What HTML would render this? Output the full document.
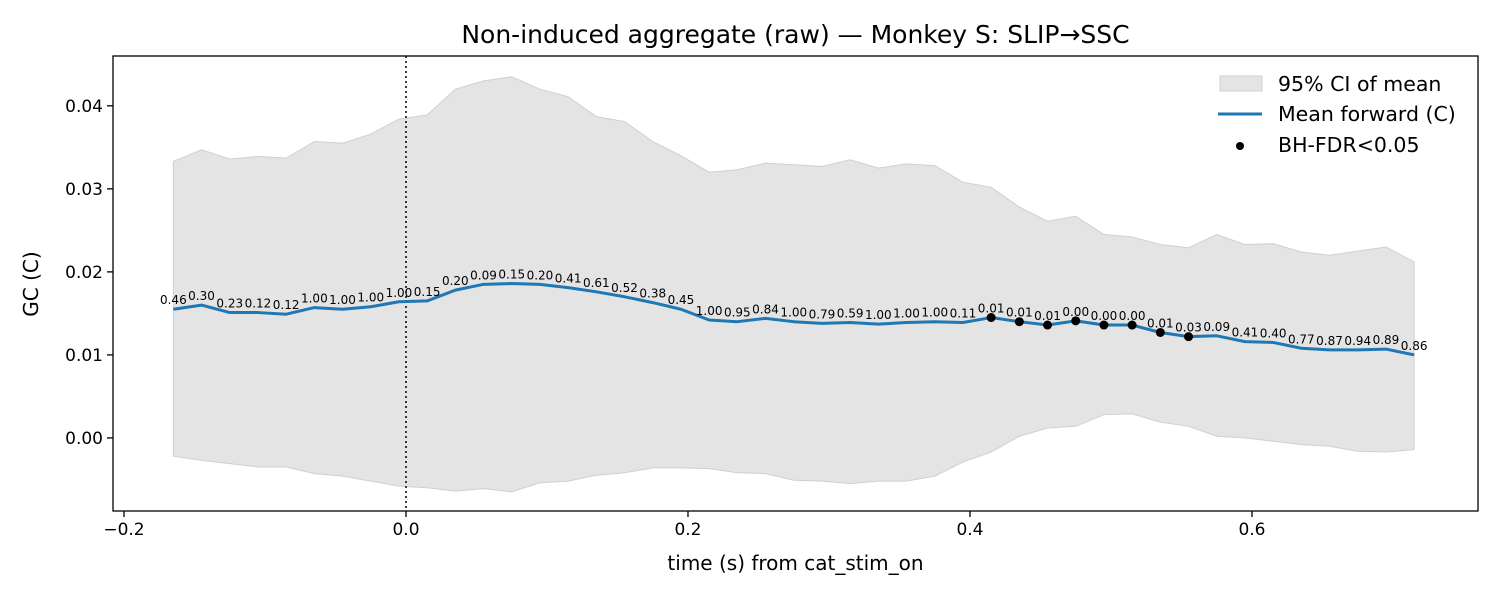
<!DOCTYPE html>
<html><head><meta charset="utf-8"><style>
body{margin:0;background:#fff;font-family:"DejaVu Sans","Liberation Sans",sans-serif}
</style></head><body>
<svg id="chart" width="1500" height="600" xmlns="http://www.w3.org/2000/svg" font-family="DejaVu Sans, Liberation Sans, sans-serif"></svg>
<script>
const times = [];
const tStart = -0.165, tStep = 0.02, nPts = 45;
const meanVals = [0.0155,0.0160,0.0151,0.0151,0.0149,0.0157,0.0155,0.0158,0.0164,0.0165,0.0178,0.0185,0.0186,0.0185,0.0181,0.0176,0.0170,0.0163,0.0155,0.0142,0.0140,0.0144,0.0140,0.0138,0.0139,0.0137,0.0139,0.0140,0.0139,0.0145,0.0140,0.0136,0.0141,0.0136,0.0136,0.0127,0.0122,0.0123,0.0116,0.0115,0.0108,0.0106,0.0106,0.0107,0.0100];
const ciUpper = [0.0333,0.0347,0.0336,0.0339,0.0337,0.0357,0.0355,0.0366,0.0384,0.0389,0.0420,0.0430,0.0435,0.0420,0.0411,0.0387,0.0381,0.0357,0.0340,0.0320,0.0323,0.0331,0.0329,0.0327,0.0335,0.0325,0.0330,0.0328,0.0308,0.0302,0.0278,0.0261,0.0267,0.0245,0.0242,0.0233,0.0229,0.0245,0.0233,0.0234,0.0224,0.0220,0.0225,0.0230,0.0212];
const ciLower = [-0.0022,-0.0027,-0.0031,-0.0035,-0.0035,-0.0043,-0.0046,-0.0052,-0.0058,-0.0060,-0.0064,-0.0061,-0.0065,-0.0054,-0.0052,-0.0045,-0.0042,-0.0036,-0.0036,-0.0037,-0.0042,-0.0043,-0.0051,-0.0052,-0.0055,-0.0052,-0.0052,-0.0046,-0.0029,-0.0017,0.0002,0.0012,0.0014,0.0028,0.0029,0.0019,0.0014,0.0002,0.0000,-0.0004,-0.0008,-0.0010,-0.0016,-0.0017,-0.0014];
const qVals = [0.46,0.30,0.23,0.12,0.12,1.00,1.00,1.00,1.00,0.15,0.20,0.09,0.15,0.20,0.41,0.61,0.52,0.38,0.45,1.00,0.95,0.84,1.00,0.79,0.59,1.00,1.00,1.00,0.11,0.01,0.01,0.01,0.00,0.00,0.00,0.01,0.03,0.09,0.41,0.40,0.77,0.87,0.94,0.89,0.86];
const xTicks = [-0.2,0.0,0.2,0.4,0.6];
const xTickLabels = ["\u22120.2","0.0","0.2","0.4","0.6"];
const yTicks = [0.00,0.01,0.02,0.03,0.04];
const yTickLabels = ["0.00","0.01","0.02","0.03","0.04"];
for(let i=0;i<nPts;i++) times.push(tStart+i*tStep);

const L=113,R=1478,T=56,B=511;
const xMin=-0.2078,xMax=0.7603,yMin=-0.0088,yMax=0.046;
const sx=v=>L+(v-xMin)/(xMax-xMin)*(R-L);
const sy=v=>B-(v-yMin)/(yMax-yMin)*(B-T);
const svg=document.getElementById('chart');
const NS='http://www.w3.org/2000/svg';
function mk(tag,attrs,text){const e=document.createElementNS(NS,tag);for(const k in attrs)e.setAttribute(k,attrs[k]);if(text!==undefined)e.textContent=text;svg.appendChild(e);return e;}

let d='';
times.forEach((t,i)=>{d+=(i?'L':'M')+sx(t)+','+sy(ciUpper[i]);});
for(let i=nPts-1;i>=0;i--)d+='L'+sx(times[i])+','+sy(ciLower[i]);
let band=mk('path',{d:d+'Z',fill:'#e4e4e4',stroke:'#d0d0d0','stroke-width':1});



let vl=mk('line',{x1:sx(0),x2:sx(0),y1:T,y2:B,stroke:'#000','stroke-width':1.5,'stroke-dasharray':'2,3'});



let md='';
times.forEach((t,i)=>{md+=(i?'L':'M')+sx(t)+','+sy(meanVals[i]);});
let ml=mk('path',{d:md,fill:'none',stroke:'#1f77b4','stroke-width':3,'stroke-linejoin':'round'});



times.forEach((t,i)=>{
  const lb=mk('text',{x:sx(t),y:sy(meanVals[i])-5,'font-size':12,'text-anchor':'middle',fill:'#000'},qVals[i].toFixed(2));
  
  
  if(qVals[i]<0.05){
    const c=mk('circle',{cx:sx(t),cy:sy(meanVals[i]),r:4.5,fill:'#000'});
    
    
  }
});

let fr=mk('rect',{x:L,y:T,width:R-L,height:B-T,fill:'none',stroke:'#000','stroke-width':1.3});



xTicks.forEach((v,i)=>{
  const x=sx(v);
  mk('line',{x1:x,x2:x,y1:B,y2:B+6,stroke:'#000','stroke-width':1.3});
  const tl=mk('text',{x:x,y:B+24,'font-size':17,'text-anchor':'middle'},xTickLabels[i]);
  
  
});
yTicks.forEach((v,i)=>{
  const y=sy(v);
  mk('line',{x1:L-6,x2:L,y1:y,y2:y,stroke:'#000','stroke-width':1.3});
  const tl=mk('text',{x:L-10,y:y+6,'font-size':17,'text-anchor':'end'},yTickLabels[i]);
  
  
});

let xt=mk('text',{x:(L+R)/2,y:570,'font-size':20,'text-anchor':'middle'},'time (s) from cat_stim_on');


let yt=mk('text',{x:38,y:284,'font-size':20,'text-anchor':'middle',transform:'rotate(-90 38 284)'},'GC (C)');


let tt=mk('text',{x:(L+R)/2,y:43,'font-size':25,'text-anchor':'middle'},'Non-induced aggregate (raw) \u2014 Monkey S: SLIP\u2192SSC');



let lg1=mk('rect',{x:1220,y:76,width:42,height:15,fill:'#e4e4e4',stroke:'#d0d0d0'});


let lt1=mk('text',{x:1278,y:91,'font-size':20.5},'95% CI of mean');


let lg2=mk('line',{x1:1218,x2:1262,y1:114,y2:114,stroke:'#1f77b4','stroke-width':3});


let lt2=mk('text',{x:1278,y:121,'font-size':20.5},'Mean forward (C)');


let lg3=mk('circle',{cx:1240,cy:146,r:4,fill:'#000'});


let lt3=mk('text',{x:1278,y:152,'font-size':20.5},'BH-FDR<0.05');


</script>
</body></html>
